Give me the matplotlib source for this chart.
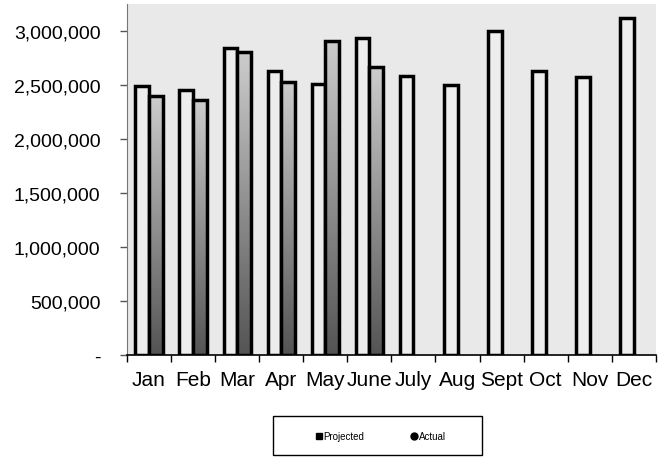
import numpy as np
import matplotlib
matplotlib.use('Agg')
from matplotlib import pyplot as plt
from matplotlib.ticker import FuncFormatter
from matplotlib.lines import Line2D
from matplotlib.patches import Rectangle

# =========================== DATA =====================================

MONTHS = ['Jan', 'Feb', 'Mar', 'Apr', 'May', 'June', 'July', 'Aug',
          'Sept', 'Oct', 'Nov', 'Dec']
PROJECTED = [2490000, 2455000, 2845000, 2630000, 2510000, 2935000,
             2585000, 2500000, 3000000, 2630000, 2575000, 3120000]
ACTUAL = [2400000, 2360000, 2805000, 2525000, 2910000, 2665000]

# =========================== PLOT =====================================

plt.rcParams['font.family'] = ['Liberation Sans', 'DejaVu Sans']

W, H = 666, 460
fig = plt.figure(figsize=(W / 100, H / 100), dpi=100)
ax = fig.add_axes([0.1907, 0.226, 0.794, 0.763])
ax.set_facecolor('#e9e9e9')

x = np.arange(len(MONTHS))
width = 0.31

proj_bars = ax.bar(x - width / 2, PROJECTED, width=width, color='#ededed',
                   edgecolor='black', linewidth=2.5, zorder=3)
act_bars = ax.bar(x[:len(ACTUAL)] + width / 2, ACTUAL, width=width,
                  color='none', edgecolor='black', linewidth=2.5, zorder=4)

# vertical gradient fill for actual bars
grad = np.linspace(0.80, 0.33, 256).reshape(-1, 1)
for b in act_bars:
    x0, y0 = b.get_x(), b.get_y()
    w, h = b.get_width(), b.get_height()
    im = ax.imshow(grad, cmap='gray', vmin=0, vmax=1, aspect='auto',
                   extent=[x0, x0 + w, y0, y0 + h], origin='upper',
                   zorder=3.5, interpolation='bilinear')
    im.set_clip_path(b)

ax.set_xlim(-0.5, len(MONTHS) - 0.5)
ax.set_ylim(0, 3250000)

ax.set_yticks(np.arange(0, 3000001, 500000))
ax.yaxis.set_major_formatter(
    FuncFormatter(lambda v, p: '-' if v == 0 else '{:,.0f}'.format(v)))
ax.set_xticks(x)
ax.set_xticklabels(MONTHS)
ax.set_xticks(np.arange(-0.5, len(MONTHS)), minor=True)
ax.tick_params(axis='x', which='major', length=0, pad=11, labelsize=15)
ax.tick_params(axis='x', which='minor', length=5, width=1, direction='out')
ax.tick_params(axis='y', length=5, width=1, labelsize=14, pad=14,
               color='#555555')

for side in ['top', 'right']:
    ax.spines[side].set_visible(False)
ax.spines['left'].set_color('#777777')
ax.spines['bottom'].set_linewidth(1.2)

# legend: frame drawn by hand to get the wide box
fig.patches.append(Rectangle((273 / W, 1 - 456 / H), 209 / W, 39 / H,
                             transform=fig.transFigure, facecolor='white',
                             edgecolor='black', linewidth=1.0))
handles = [Line2D([], [], marker='s', color='black', linestyle='none',
                  markersize=4),
           Line2D([], [], marker='o', color='black', linestyle='none',
                  markersize=5)]
fig.legend(handles, ['Projected', 'Actual'], loc='center',
           bbox_to_anchor=(380 / W, 1 - 437 / H), ncol=2, fontsize=7,
           frameon=False, handletextpad=0.0, columnspacing=4.6,
           handlelength=1.0)

plt.savefig('out.png', dpi=100)
